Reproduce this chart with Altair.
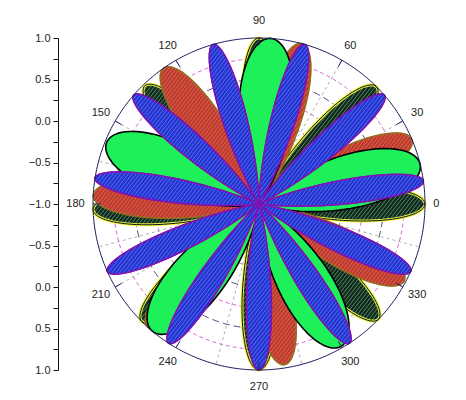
import math
import numpy as np
import pandas as pd
import altair as alt

# ---------------- values ----------------
# petal tip directions (degrees) and petal lengths (radial units, -1 = centre, 1 = rim)
dark_angles = [0, 45, 90, 134, 182, 225, 270, 316]
dark_lengths = [1.0, 1.0, 1.0, 0.98, 1.0, 1.0, 1.0, 1.0]
red_angles = [23, 75, 125, 177, 228, 279, 332]
red_lengths = [1.0, 1.0, 1.0, 1.0, 1.0, 0.96, 0.98]
green_angles = [14, 86, 158, 230, 300]
green_lengths = [1.0, 1.0, 0.98, 1.0, 0.98]
blue_angles = [8, 41, 74, 106, 139, 171, 204, 237, 270, 303, 336]
blue_lengths = [1.0, 1.0, 1.0, 1.0, 1.0, 1.0, 1.0, 1.0, 1.0, 1.0, 1.0]

angle_labels = ["0", "30", "60", "90", "120", "150", "180", "210", "240", "270", "300", "330"]
angle_label_deg = [0, 30, 60, 90, 120, 150, 180, 210, 240, 270, 300, 330]
radial_ring_values = [-0.75, -0.5, -0.25, 0.0, 0.25, 0.5, 0.75]
spoke_step_deg = 15

FONT = "Liberation Sans"
R_PX = 166  # plot radius in pixels


def frac(r):
    return (r + 1.0) / 2.0


def petal(theta0, length, n):
    h = math.pi / n
    phis = np.linspace(-h, h, 91)
    f = frac(length) * (1 + np.cos(np.pi * phis / h)) / 2
    th = math.radians(theta0) + phis
    return f * np.cos(th), f * np.sin(th)


def hatch(xs, ys, spacing, ang_deg):
    a = math.radians(ang_deg)
    d = np.array([math.cos(a), math.sin(a)])
    nv = np.array([-math.sin(a), math.cos(a)])
    pts = np.stack([xs, ys], 1)
    proj = pts @ nv
    start = math.floor(proj.min() / spacing) * spacing + spacing / 2
    segs = []
    c = start
    m = len(pts)
    while c < proj.max():
        hits = []
        for i in range(m):
            j = (i + 1) % m
            da = proj[i] - c
            db = proj[j] - c
            if (da < 0) != (db < 0):
                t = da / (da - db)
                p = pts[i] + t * (pts[j] - pts[i])
                hits.append(p)
        hits.sort(key=lambda p: float(p @ d))
        for k in range(0, len(hits) - 1, 2):
            segs.append((hits[k][0], hits[k][1], hits[k + 1][0], hits[k + 1][1]))
        c += spacing
    return segs


def build(angles, lengths, name, do_hatch):
    n = len(angles)
    rows, hrows = [], []
    for pid, (t0, L) in enumerate(zip(angles, lengths)):
        xs, ys = petal(t0, L, n)
        for o, (x, y) in enumerate(zip(xs, ys)):
            rows.append({"s": name, "p": pid, "o": o, "x": x, "y": y})
        if do_hatch:
            for (x1, y1, x2, y2) in hatch(xs, ys, 3.0 / R_PX, 52):
                hrows.append({"x": x1, "y": y1, "x2": x2, "y2": y2})
    return pd.DataFrame(rows), pd.DataFrame(hrows)


xs_scale = alt.Scale(domain=[-1, 1], nice=False, zero=False)
ys_scale = alt.Scale(domain=[-1, 1], nice=False, zero=False)
tick_vals = [round(-1 + 0.125 * i, 4) for i in range(17)]
yaxis = alt.Axis(
    values=tick_vals,
    labelExpr="abs(datum.value*4 - round(datum.value*4)) < 0.01 ? format(2*abs(datum.value)-1, '.1f') : ''",
    offset=35, tickSize=5, tickColor="#111", domainColor="#111", grid=False,
    title=None, labelFont=FONT, labelFontSize=11, labelColor="#222",
    labelPadding=3, labelFlush=False, labelOverlap=False,
)


def X(f="x"):
    return alt.X(f"{f}:Q", scale=xs_scale, axis=None)


def Y(f="y"):
    return alt.Y(f"{f}:Q", scale=ys_scale, axis=yaxis)


# ---------------- grid ----------------
ring_rows = []
for i, rv in enumerate(radial_ring_values):
    fr = frac(rv)
    kind = "major" if abs(rv * 2 - round(rv * 2)) < 1e-6 else "minor"
    for k in range(0, 181):
        t = math.radians(k * 2)
        ring_rows.append({"ring": i, "kind": kind, "o": k, "x": fr * math.cos(t), "y": fr * math.sin(t)})
rings = pd.DataFrame(ring_rows)

spokes = pd.DataFrame([
    {"x": 0.0, "y": 0.0, "x2": math.cos(math.radians(a)), "y2": math.sin(math.radians(a))}
    for a in range(0, 360, spoke_step_deg)
])

outer = pd.DataFrame([{"o": k, "x": math.cos(math.radians(k)), "y": math.sin(math.radians(k))} for k in range(0, 361)])
oticks = pd.DataFrame([
    {"x": 0.955 * math.cos(math.radians(a)), "y": 0.955 * math.sin(math.radians(a)),
     "x2": math.cos(math.radians(a)), "y2": math.sin(math.radians(a))}
    for a in angle_label_deg
])
labels = pd.DataFrame([
    {"t": t, "x": (1.05 if a in (0, 180) else 1.1) * math.cos(math.radians(a)),
     "y": (1.05 if a in (0, 180) else 1.1) * math.sin(math.radians(a)),
     "al": "left" if a == 0 else ("right" if a == 180 else "center")}
    for t, a in zip(angle_labels, angle_label_deg)
])

layers = []
layers.append(alt.Chart(rings[rings.kind == "minor"]).mark_line(stroke="#cc44cc", strokeWidth=0.8, strokeDash=[4, 3]).encode(
    x=X(), y=Y(), detail="ring:N", order="o:Q"))
layers.append(alt.Chart(rings[rings.kind == "major"]).mark_line(stroke="#3a3a70", strokeWidth=0.9, strokeDash=[7, 4]).encode(
    x=X(), y=Y(), detail="ring:N", order="o:Q"))
layers.append(alt.Chart(spokes).mark_rule(stroke="#9a9a9a", strokeWidth=0.8, strokeDash=[3, 3]).encode(
    x=X(), y=Y(), x2="x2:Q", y2="y2:Q"))

# ---------------- petals ----------------
specs = [
    (dark_angles, dark_lengths, "dark", True, "#0f2a1c", "#f2f23a", 3.0, "#8fd0a0", "#0a1a10", 1.0, 0.7),
    (red_angles, red_lengths, "red", True, "#c03a2c", "#9c7a22", 1.6, "#f0a090", "#8a5a1a", 0.8, 0.55),
    (green_angles, green_lengths, "green", False, "#1ef05a", "#000000", 1.6, None, "#000000", 1.6, 0),
    (blue_angles, blue_lengths, "blue", True, "#2234d4", "#7a14b4", 1.6, "#a8b4f4", "#7a14b4", 1.3, 0.55),
]
for angles, lengths, name, hh, fillc, strokec, sw, hatchc, linec, lw, hop in specs:
    pdf, hdf = build(angles, lengths, name, hh)
    layers.append(alt.Chart(pdf).mark_line(fill=fillc, stroke=strokec, strokeWidth=sw, strokeJoin="round").encode(
        x=X(), y=Y(), detail="p:N", order="o:Q"))
    if hh:
        layers.append(alt.Chart(hdf).mark_rule(stroke=hatchc, strokeWidth=0.8, opacity=hop).encode(
            x=X(), y=Y(), x2="x2:Q", y2="y2:Q"))
        layers.append(alt.Chart(pdf).mark_line(stroke=linec, strokeWidth=lw, strokeJoin="round").encode(
            x=X(), y=Y(), detail="p:N", order="o:Q"))

layers.append(alt.Chart(outer).mark_line(stroke="#1c1c60", strokeWidth=1.0).encode(x=X(), y=Y(), order="o:Q"))
layers.append(alt.Chart(oticks).mark_rule(stroke="#1c1c60", strokeWidth=1.0).encode(x=X(), y=Y(), x2="x2:Q", y2="y2:Q"))
for al in ["left", "right", "center"]:
    layers.append(alt.Chart(labels[labels.al == al]).mark_text(font=FONT, fontSize=11, color="#222", align=al).encode(
        x=X(), y=Y(), text="t:N"))

chart = alt.layer(*layers).properties(
    width=332, height=332,
    autosize=alt.AutoSizeParams(type="none"),
    padding={"left": 85, "top": 30, "right": 33, "bottom": 22},
).configure_view(stroke=None)

chart.save("out.html", embed_options={"renderer": "svg", "actions": False})
